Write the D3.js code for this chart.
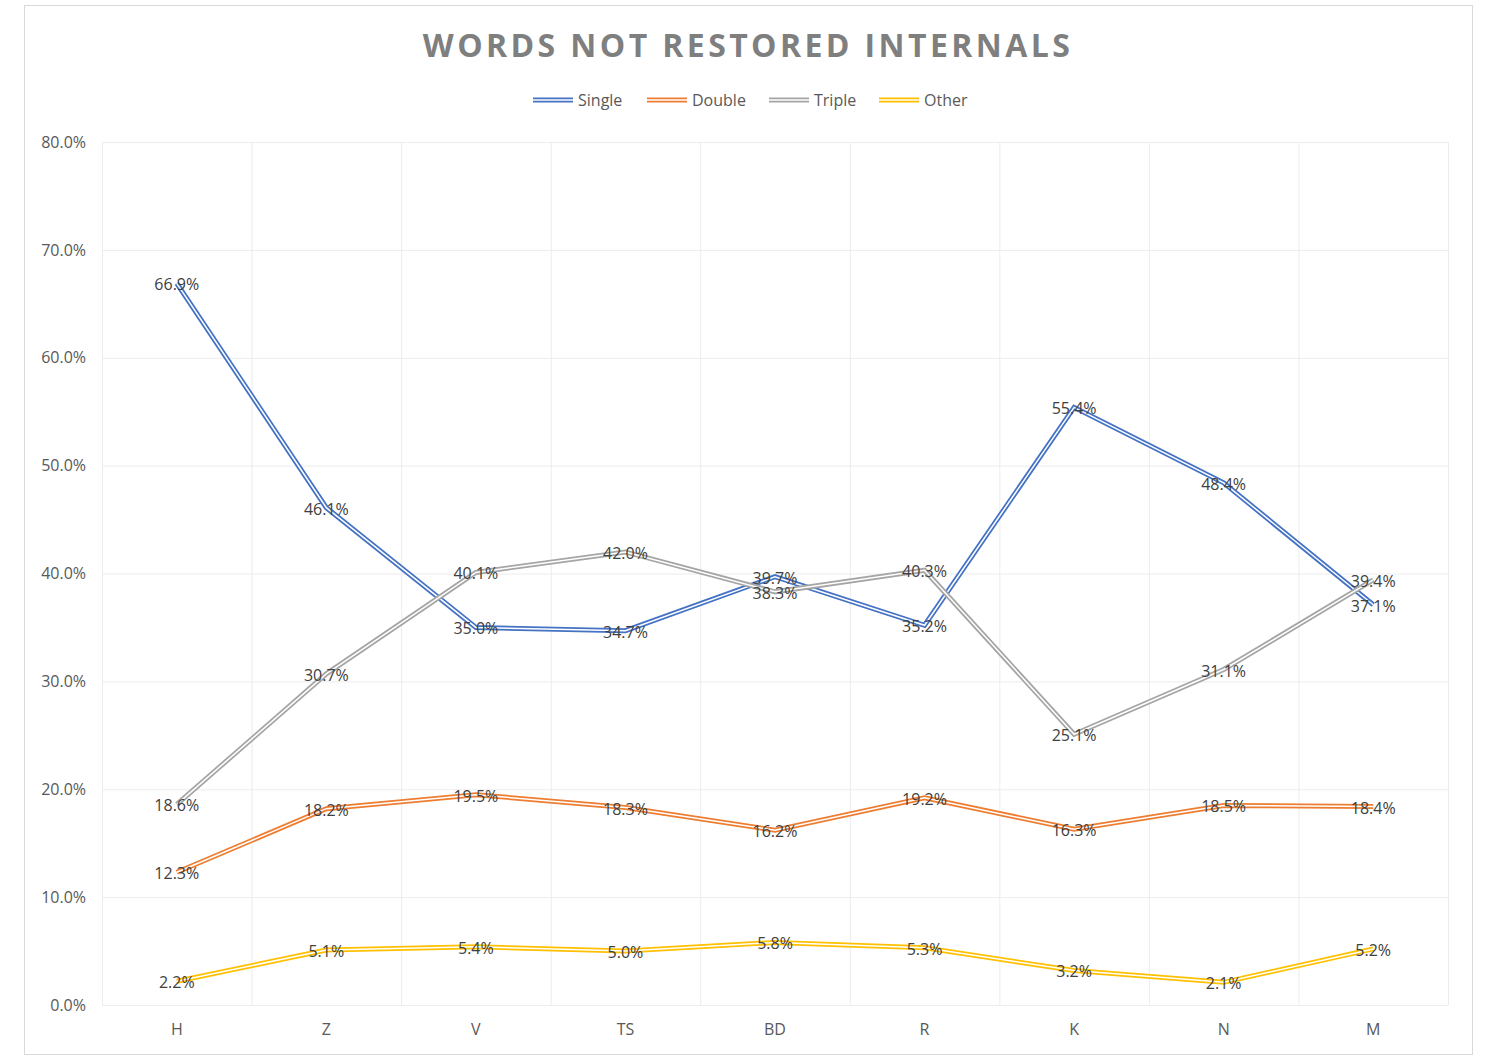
<!DOCTYPE html>
<html>
<head>
<meta charset="utf-8">
<script src="https://cdn.jsdelivr.net/npm/d3@7"></script>
<style>
  body { margin: 0; background: #fff; font-family: "Open Sans", sans-serif; }
</style>
</head>
<body>
<div id="chart"></div>
<script>
const categories = ["H", "Z", "V", "TS", "BD", "R", "K", "N", "M"];
const single = [66.9, 46.1, 35.0, 34.7, 39.7, 35.2, 55.4, 48.4, 37.1];
const double = [12.3, 18.2, 19.5, 18.3, 16.2, 19.2, 16.3, 18.5, 18.4];
const triple = [18.6, 30.7, 40.1, 42.0, 38.3, 40.3, 25.1, 31.1, 39.4];
const other = [2.2, 5.1, 5.4, 5.0, 5.8, 5.3, 3.2, 2.1, 5.2];
const yTicks = [0, 10, 20, 30, 40, 50, 60, 70, 80];

const series = [
    {name: "Single", values: single, color: "#4472C4"},
    {name: "Double", values: double, color: "#ED7D31"},
    {name: "Triple", values: triple, color: "#A5A5A5"},
    {name: "Other", values: other, color: "#FFC000"}
];

const W = 1499, H = 1057;
const margin = {top: 142, right: 51, bottom: 52, left: 102};
const width = W - margin.left - margin.right;
const height = H - margin.top - margin.bottom;

const root = d3.select("#chart").append("svg")
    .attr("width", W).attr("height", H);

root.append("rect")
    .attr("x", 24.5).attr("y", 5.5).attr("width", 1448).attr("height", 1049)
    .style("fill", "#fff").style("stroke", "#d9d9d9");

root.append("text")
    .attr("x", 748).attr("y", 57)
    .attr("text-anchor", "middle")
    .style("font-size", "32px").style("font-weight", "bold")
    .style("letter-spacing", "3.4px")
    .style("fill", "#7f7f7f")
    .text("WORDS NOT RESTORED INTERNALS");

// legend
const legendX = [533, 647, 769, 879];
series.forEach((s, i) => {
    const g = root.append("g").attr("transform", `translate(${legendX[i]},100)`);
    g.append("line").attr("x1", 0).attr("x2", 40).attr("y1", 0).attr("y2", 0)
        .style("stroke", s.color).style("stroke-width", 5);
    g.append("line").attr("x1", 0).attr("x2", 40).attr("y1", 0).attr("y2", 0)
        .style("stroke", "#fff").style("stroke-width", 1.5);
    g.append("text").attr("x", 45).attr("y", 6)
        .style("font-size", "16px").style("fill", "#595959")
        .text(s.name);
});

const svg = root.append("g")
    .attr("transform", `translate(${margin.left},${margin.top})`);

const x = d3.scaleBand().domain(categories).range([0, width]);
const y = d3.scaleLinear().domain([0, 80]).range([height, 0]);

// gridlines
svg.selectAll(".hgrid").data(yTicks).enter().append("line")
    .attr("x1", 0).attr("x2", width)
    .attr("y1", d => y(d) + 0.5).attr("y2", d => y(d) + 0.5)
    .style("stroke", "#ececec");
svg.selectAll(".vgrid").data(categories.concat([null])).enter().append("line")
    .attr("x1", (d, i) => i * x.bandwidth() + 0.5)
    .attr("x2", (d, i) => i * x.bandwidth() + 0.5)
    .attr("y1", 0).attr("y2", height)
    .style("stroke", "#ececec");

// axes
const yAxis = svg.append("g")
    .call(d3.axisLeft(y).tickValues(yTicks).tickFormat(d => d.toFixed(1) + "%").tickSize(0).tickPadding(16));
const xAxis = svg.append("g")
    .attr("transform", `translate(0,${height})`)
    .call(d3.axisBottom(x).tickSize(0).tickPadding(19));
[yAxis, xAxis].forEach(a => {
    a.select(".domain").remove();
    a.selectAll("text").style("font-size", "16px").style("fill", "#595959")
        .style("font-family", "'Open Sans', sans-serif");
});

const line = d3.line()
    .x((d, i) => x(categories[i]) + x.bandwidth() / 2)
    .y(d => y(d));

series.forEach(s => {
    svg.append("path").datum(s.values).attr("d", line)
        .style("fill", "none").style("stroke", s.color).style("stroke-width", 5);
    svg.append("path").datum(s.values).attr("d", line)
        .style("fill", "none").style("stroke", "#fff").style("stroke-width", 1.5);
});

series.forEach(s => {
    svg.selectAll(null).data(s.values).enter().append("text")
        .attr("x", (d, i) => x(categories[i]) + x.bandwidth() / 2)
        .attr("y", d => y(d) + 7)
        .attr("text-anchor", "middle")
        .style("font-size", "16px").style("fill", "#404040")
        .text(d => d.toFixed(1) + "%");
});
</script>
</body>
</html>
